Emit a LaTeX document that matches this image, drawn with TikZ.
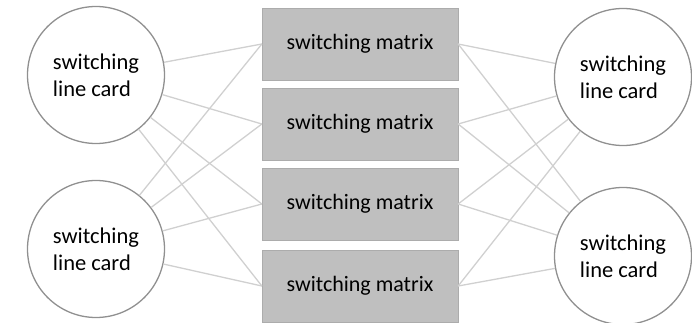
\documentclass[tikz,border=0pt]{standalone}
\usepackage{fontspec}
\setmainfont{Carlito}
\definecolor{boxgray}{HTML}{BFBFBF}
\definecolor{ringgray}{HTML}{909090}
\definecolor{linkgray}{HTML}{D0D0D0}
\tikzset{
  card/.style={circle, draw=ringgray, line width=1.3pt, fill=white, minimum size=137pt, inner sep=0pt, align=left, font=\fontsize{22.5}{27}\selectfont},
  matrixbox/.style={rectangle, fill=boxgray, draw=boxgray!90!black, line width=0.3pt, minimum width=196pt, minimum height=72pt, inner sep=0pt, font=\fontsize{22}{27}\selectfont},
  link/.style={draw=linkgray, line width=1.3pt}
}
\begin{document}
\begin{tikzpicture}[x=1pt,y=-1pt]
\useasboundingbox (0,0) rectangle (692,323);
\node[matrixbox] (M1) at (360,44) {switching matrix};
\node[matrixbox] (M2) at (360,124) {switching matrix};
\node[matrixbox] (M3) at (360,204) {switching matrix};
\node[matrixbox] (M4) at (360,286) {switching matrix};
\node[card] (L1) at (96,75) {switching\\line card};
\node[card] (L2) at (96,249) {switching\\line card};
\node[card] (R1) at (623,77) {switching\\line card};
\node[card] (R2) at (623,256) {switching\\line card};
\foreach \m in {M1,M2,M3,M4}{
  \foreach \c in {L1,L2}{ \draw[link] (\c) -- (\m.west); }
  \foreach \c in {R1,R2}{ \draw[link] (\m.east) -- (\c); }
}
\end{tikzpicture}
\end{document}
